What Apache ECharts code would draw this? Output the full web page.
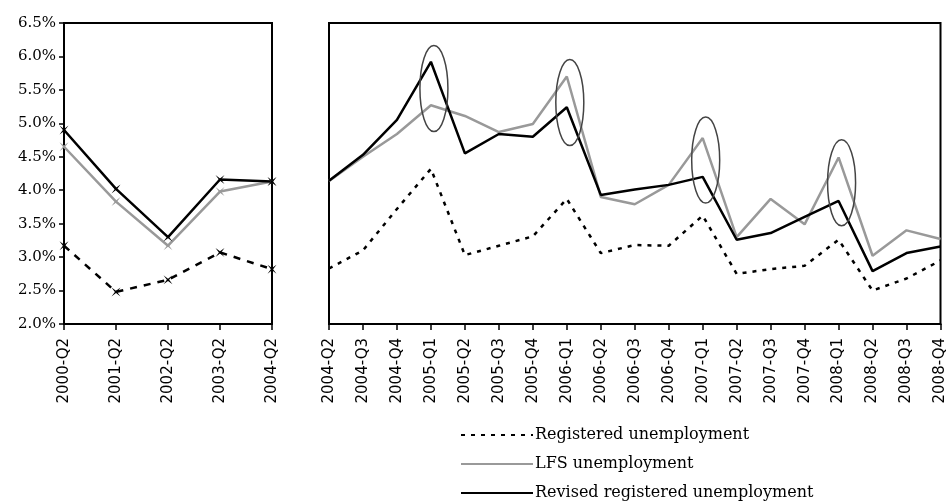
<!DOCTYPE html>
<html>
<head>
<meta charset="utf-8">
<script src="https://cdn.jsdelivr.net/npm/echarts@6/dist/echarts.min.js"></script>
<style>
  html, body { margin: 0; padding: 0; background: #fff; }
  #chart { width: 948px; height: 504px; }
</style>
</head>
<body>
<div id="chart"></div>
<script>
// left panel: yearly Q2 values
const leftCats = ["2000-Q2", "2001-Q2", "2002-Q2", "2003-Q2", "2004-Q2"];
const leftRegistered = [3.17, 2.48, 2.66, 3.07, 2.82];
const leftLfs = [4.65, 3.83, 3.17, 3.98, 4.13];
const leftRevised = [4.90, 4.02, 3.30, 4.16, 4.13];

// right panel: quarterly values
const rightCats = [
  "2004-Q2", "2004-Q3", "2004-Q4", "2005-Q1", "2005-Q2", "2005-Q3", "2005-Q4",
  "2006-Q1", "2006-Q2", "2006-Q3", "2006-Q4", "2007-Q1", "2007-Q2", "2007-Q3",
  "2007-Q4", "2008-Q1", "2008-Q2", "2008-Q3", "2008-Q4"
];
const rightRegistered = [2.83, 3.10, 3.72, 4.32, 3.03, 3.17, 3.31, 3.87, 3.06, 3.18,
  3.17, 3.62, 2.75, 2.82, 2.87, 3.26, 2.50, 2.68, 2.95];
const rightLfs = [4.14, 4.50, 4.84, 5.27, 5.11, 4.87, 4.99, 5.70, 3.90, 3.79,
  4.08, 4.78, 3.30, 3.87, 3.49, 4.49, 3.02, 3.40, 3.27];
const rightRevised = [4.14, 4.53, 5.05, 5.92, 4.55, 4.84, 4.80, 5.24, 3.93, 4.01,
  4.08, 4.20, 3.26, 3.36, 3.60, 3.84, 2.79, 3.06, 3.16];

// circled first-quarter peaks (category, centre value)
const ellipseCenters = [["2005-Q1", 5.52], ["2006-Q1", 5.31], ["2007-Q1", 4.45], ["2008-Q1", 4.11]];

const seriesNames = ["Registered unemployment", "LFS unemployment", "Revised registered unemployment"];

const yTicks = { min: 2.0, max: 6.5, interval: 0.5 };

const serif = "'DejaVu Serif', 'Liberation Serif', serif";
const sans = "'DejaVu Sans', Verdana, sans-serif";
const xMark = "path://M0,0 L4,3 L8,0 L5,4 L8,8 L4,5 L0,8 L3,4 Z";

const chart = echarts.init(document.getElementById("chart"));

function xAxisFor(idx, cats) {
  return {
    type: "category",
    gridIndex: idx,
    data: cats,
    boundaryGap: false,
    axisLine: { lineStyle: { color: "#000", width: 2 } },
    axisTick: { show: true, interval: 0, length: 6, lineStyle: { color: "#000", width: 1.5 } },
    axisLabel: {
      interval: 0,
      rotate: 90,
      margin: 14,
      color: "#000",
      fontFamily: sans,
      fontSize: 15,
    },
  };
}

function legendRow(name, top) {
  return {
    orient: "vertical",
    left: 455,
    top: top,
    itemWidth: 72,
    itemHeight: 14,
    data: [name],
    itemStyle: { opacity: 0 },
    selectedMode: false,
    textStyle: { color: "#000", fontFamily: serif, fontSize: 16, padding: [0, 0, 0, -3] },
  };
}

const option = {
  animation: false,
  backgroundColor: "#fff",
  grid: [
    { left: 64, top: 23, width: 208, height: 301, show: true, borderColor: "#000", borderWidth: 2 },
    { left: 329, top: 23, width: 612, height: 301, show: true, borderColor: "#000", borderWidth: 2 },
  ],
  xAxis: [xAxisFor(0, leftCats), xAxisFor(1, rightCats)],
  yAxis: [
    {
      type: "value",
      gridIndex: 0,
      min: yTicks.min,
      max: yTicks.max,
      interval: yTicks.interval,
      axisLine: { show: true, lineStyle: { color: "#000", width: 2 } },
      axisTick: { show: true, length: 5, lineStyle: { color: "#000", width: 1.5 } },
      splitLine: { show: false },
      axisLabel: {
        margin: 8,
        color: "#000",
        fontFamily: serif,
        fontSize: 15,
        formatter: (v) => v.toFixed(1) + "%",
      },
    },
    {
      type: "value",
      gridIndex: 1,
      min: yTicks.min,
      max: yTicks.max,
      interval: yTicks.interval,
      axisLine: { show: true, lineStyle: { color: "#000", width: 2 } },
      axisTick: { show: false },
      splitLine: { show: false },
      axisLabel: { show: false },
    },
  ],
  legend: [
    legendRow(seriesNames[0], 422),
    legendRow(seriesNames[1], 451),
    legendRow(seriesNames[2], 480),
  ],
  series: [
    {
      name: seriesNames[0], type: "line", xAxisIndex: 1, yAxisIndex: 1,
      data: rightRegistered, showSymbol: false, symbol: "none",
      lineStyle: { color: "#000", width: 2.5, type: [4, 6] },
      itemStyle: { color: "#000" },
    },
    {
      name: seriesNames[1], type: "line", xAxisIndex: 1, yAxisIndex: 1,
      data: rightLfs, showSymbol: false, symbol: "none",
      lineStyle: { color: "#999", width: 2.5 },
      itemStyle: { color: "#999" },
    },
    {
      name: seriesNames[2], type: "line", xAxisIndex: 1, yAxisIndex: 1,
      data: rightRevised, showSymbol: false, symbol: "none",
      lineStyle: { color: "#000", width: 2.5 },
      itemStyle: { color: "#000" },
    },
    {
      name: seriesNames[0], type: "line", xAxisIndex: 0, yAxisIndex: 0,
      data: leftRegistered, symbol: xMark, symbolSize: 9,
      lineStyle: { color: "#000", width: 2.5, type: [7, 7] },
      itemStyle: { color: "#000" },
    },
    {
      name: seriesNames[1], type: "line", xAxisIndex: 0, yAxisIndex: 0,
      data: leftLfs, symbol: xMark, symbolSize: 9,
      lineStyle: { color: "#999", width: 2.5 },
      itemStyle: { color: "#999" },
    },
    {
      name: seriesNames[2], type: "line", xAxisIndex: 0, yAxisIndex: 0,
      data: leftRevised, symbol: xMark, symbolSize: 9,
      lineStyle: { color: "#000", width: 2.5 },
      itemStyle: { color: "#000" },
    },
    {
      name: "peaks", type: "custom", xAxisIndex: 1, yAxisIndex: 1,
      data: ellipseCenters,
      silent: true,
      z: 5,
      renderItem: function (params, api) {
        const c = api.coord([api.value(0), api.value(1)]);
        return {
          type: "ellipse",
          shape: { cx: c[0] + 3, cy: c[1], rx: 14, ry: 43 },
          style: { fill: "none", stroke: "#444", lineWidth: 1.5 },
        };
      },
    },
  ],
};

chart.setOption(option);
</script>
</body>
</html>
